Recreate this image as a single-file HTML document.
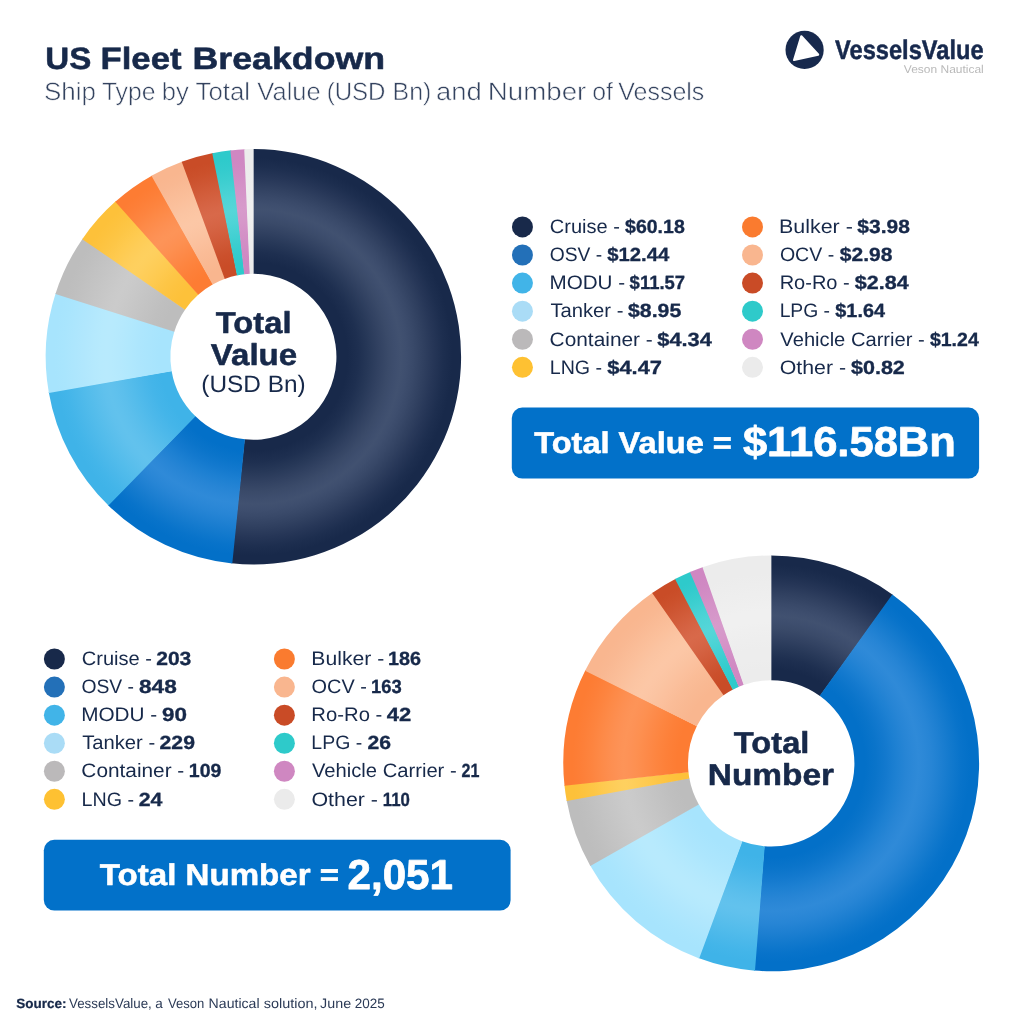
<!DOCTYPE html>
<html lang="en"><head><meta charset="utf-8"><title>US Fleet Breakdown</title>
<style>html,body{margin:0;padding:0;background:#fff}body{width:1024px;height:1024px;overflow:hidden}svg{display:block}text{font-family:"Liberation Sans", Arial, sans-serif;white-space:pre;text-rendering:geometricPrecision}</style>
</head><body>
<svg width="1024" height="1024" viewBox="0 0 1024 1024">
<defs>
<radialGradient id="a0" gradientUnits="userSpaceOnUse" cx="253.4" cy="356.8" r="207.7"><stop offset="0.400" stop-color="#18294a"/><stop offset="0.453" stop-color="#18294a"/><stop offset="0.506" stop-color="#1e2f50"/><stop offset="0.554" stop-color="#273858"/><stop offset="0.602" stop-color="#314161"/><stop offset="0.650" stop-color="#3a4a69"/><stop offset="0.684" stop-color="#3e4e6e"/><stop offset="0.710" stop-color="#415170"/><stop offset="0.737" stop-color="#3e4e6e"/><stop offset="0.770" stop-color="#394969"/><stop offset="0.818" stop-color="#304060"/><stop offset="0.867" stop-color="#263657"/><stop offset="0.915" stop-color="#1d2e4f"/><stop offset="0.958" stop-color="#18294a"/><stop offset="1.000" stop-color="#18294a"/></radialGradient>
<radialGradient id="a1" gradientUnits="userSpaceOnUse" cx="253.4" cy="356.8" r="207.7"><stop offset="0.400" stop-color="#0370c8"/><stop offset="0.453" stop-color="#0370c8"/><stop offset="0.506" stop-color="#0a74ca"/><stop offset="0.554" stop-color="#1379ce"/><stop offset="0.602" stop-color="#1d80d2"/><stop offset="0.650" stop-color="#2785d5"/><stop offset="0.684" stop-color="#2c88d7"/><stop offset="0.710" stop-color="#2f8ad8"/><stop offset="0.737" stop-color="#2c88d7"/><stop offset="0.770" stop-color="#2785d5"/><stop offset="0.818" stop-color="#1d7fd1"/><stop offset="0.867" stop-color="#1279cd"/><stop offset="0.915" stop-color="#0873ca"/><stop offset="0.958" stop-color="#0370c8"/><stop offset="1.000" stop-color="#0370c8"/></radialGradient>
<radialGradient id="a2" gradientUnits="userSpaceOnUse" cx="253.4" cy="356.8" r="207.7"><stop offset="0.400" stop-color="#3fb3e8"/><stop offset="0.453" stop-color="#3fb3e8"/><stop offset="0.506" stop-color="#44b5e9"/><stop offset="0.554" stop-color="#4cb8ea"/><stop offset="0.602" stop-color="#54bceb"/><stop offset="0.650" stop-color="#5cbfec"/><stop offset="0.684" stop-color="#60c1ed"/><stop offset="0.710" stop-color="#62c2ed"/><stop offset="0.737" stop-color="#60c1ed"/><stop offset="0.770" stop-color="#5bbfec"/><stop offset="0.818" stop-color="#53bceb"/><stop offset="0.867" stop-color="#4bb8ea"/><stop offset="0.915" stop-color="#43b5e9"/><stop offset="0.958" stop-color="#3fb3e8"/><stop offset="1.000" stop-color="#3fb3e8"/></radialGradient>
<radialGradient id="a3" gradientUnits="userSpaceOnUse" cx="253.4" cy="356.8" r="207.7"><stop offset="0.400" stop-color="#a7e4fd"/><stop offset="0.453" stop-color="#a7e4fd"/><stop offset="0.506" stop-color="#aae5fd"/><stop offset="0.554" stop-color="#ade6fd"/><stop offset="0.602" stop-color="#b1e8fd"/><stop offset="0.650" stop-color="#b5e9fd"/><stop offset="0.684" stop-color="#b7eafd"/><stop offset="0.710" stop-color="#b8eafd"/><stop offset="0.737" stop-color="#b7eafd"/><stop offset="0.770" stop-color="#b5e9fd"/><stop offset="0.818" stop-color="#b1e7fd"/><stop offset="0.867" stop-color="#ade6fd"/><stop offset="0.915" stop-color="#a9e5fd"/><stop offset="0.958" stop-color="#a7e4fd"/><stop offset="1.000" stop-color="#a7e4fd"/></radialGradient>
<radialGradient id="a4" gradientUnits="userSpaceOnUse" cx="253.4" cy="356.8" r="207.7"><stop offset="0.400" stop-color="#bdbdbd"/><stop offset="0.453" stop-color="#bdbdbd"/><stop offset="0.506" stop-color="#bfbfbf"/><stop offset="0.554" stop-color="#c2c2c2"/><stop offset="0.602" stop-color="#c5c5c5"/><stop offset="0.650" stop-color="#c8c8c8"/><stop offset="0.684" stop-color="#cacaca"/><stop offset="0.710" stop-color="#cbcbcb"/><stop offset="0.737" stop-color="#cacaca"/><stop offset="0.770" stop-color="#c8c8c8"/><stop offset="0.818" stop-color="#c5c5c5"/><stop offset="0.867" stop-color="#c2c2c2"/><stop offset="0.915" stop-color="#bfbfbf"/><stop offset="0.958" stop-color="#bdbdbd"/><stop offset="1.000" stop-color="#bdbdbd"/></radialGradient>
<radialGradient id="a5" gradientUnits="userSpaceOnUse" cx="253.4" cy="356.8" r="207.7"><stop offset="0.400" stop-color="#fdc13a"/><stop offset="0.453" stop-color="#fdc13a"/><stop offset="0.506" stop-color="#fdc340"/><stop offset="0.554" stop-color="#fdc647"/><stop offset="0.602" stop-color="#feca50"/><stop offset="0.650" stop-color="#fecd58"/><stop offset="0.684" stop-color="#fecf5d"/><stop offset="0.710" stop-color="#fed05f"/><stop offset="0.737" stop-color="#fecf5d"/><stop offset="0.770" stop-color="#fecd58"/><stop offset="0.818" stop-color="#feca4f"/><stop offset="0.867" stop-color="#fdc646"/><stop offset="0.915" stop-color="#fdc33f"/><stop offset="0.958" stop-color="#fdc13a"/><stop offset="1.000" stop-color="#fdc13a"/></radialGradient>
<radialGradient id="a6" gradientUnits="userSpaceOnUse" cx="253.4" cy="356.8" r="207.7"><stop offset="0.400" stop-color="#fd7c33"/><stop offset="0.453" stop-color="#fd7c33"/><stop offset="0.506" stop-color="#fd8039"/><stop offset="0.554" stop-color="#fd8540"/><stop offset="0.602" stop-color="#fd8a49"/><stop offset="0.650" stop-color="#fd9051"/><stop offset="0.684" stop-color="#fd9256"/><stop offset="0.710" stop-color="#fd9458"/><stop offset="0.737" stop-color="#fd9256"/><stop offset="0.770" stop-color="#fd8f51"/><stop offset="0.818" stop-color="#fd8a48"/><stop offset="0.867" stop-color="#fd843f"/><stop offset="0.915" stop-color="#fd7f38"/><stop offset="0.958" stop-color="#fd7c33"/><stop offset="1.000" stop-color="#fd7c33"/></radialGradient>
<radialGradient id="a7" gradientUnits="userSpaceOnUse" cx="253.4" cy="356.8" r="207.7"><stop offset="0.400" stop-color="#f9b68f"/><stop offset="0.453" stop-color="#f9b68f"/><stop offset="0.506" stop-color="#f9b993"/><stop offset="0.554" stop-color="#fabc97"/><stop offset="0.602" stop-color="#fbc09d"/><stop offset="0.650" stop-color="#fbc4a2"/><stop offset="0.684" stop-color="#fcc6a5"/><stop offset="0.710" stop-color="#fcc7a6"/><stop offset="0.737" stop-color="#fcc6a4"/><stop offset="0.770" stop-color="#fbc4a2"/><stop offset="0.818" stop-color="#fbc09c"/><stop offset="0.867" stop-color="#fabc97"/><stop offset="0.915" stop-color="#f9b892"/><stop offset="0.958" stop-color="#f9b68f"/><stop offset="1.000" stop-color="#f9b68f"/></radialGradient>
<radialGradient id="a8" gradientUnits="userSpaceOnUse" cx="253.4" cy="356.8" r="207.7"><stop offset="0.400" stop-color="#c94c27"/><stop offset="0.453" stop-color="#c94c27"/><stop offset="0.506" stop-color="#cb502c"/><stop offset="0.554" stop-color="#ce5734"/><stop offset="0.602" stop-color="#d25d3c"/><stop offset="0.650" stop-color="#d56444"/><stop offset="0.684" stop-color="#d76748"/><stop offset="0.710" stop-color="#d8694a"/><stop offset="0.737" stop-color="#d76748"/><stop offset="0.770" stop-color="#d56343"/><stop offset="0.818" stop-color="#d25d3b"/><stop offset="0.867" stop-color="#ce5633"/><stop offset="0.915" stop-color="#cb502b"/><stop offset="0.958" stop-color="#c94c27"/><stop offset="1.000" stop-color="#c94c27"/></radialGradient>
<radialGradient id="a9" gradientUnits="userSpaceOnUse" cx="253.4" cy="356.8" r="207.7"><stop offset="0.400" stop-color="#2ecacb"/><stop offset="0.453" stop-color="#2ecacb"/><stop offset="0.506" stop-color="#34cccd"/><stop offset="0.554" stop-color="#3cced0"/><stop offset="0.602" stop-color="#45d1d3"/><stop offset="0.650" stop-color="#4ed4d6"/><stop offset="0.684" stop-color="#53d5d7"/><stop offset="0.710" stop-color="#55d6d8"/><stop offset="0.737" stop-color="#52d5d7"/><stop offset="0.770" stop-color="#4ed4d6"/><stop offset="0.818" stop-color="#45d1d3"/><stop offset="0.867" stop-color="#3bcecf"/><stop offset="0.915" stop-color="#33cbcd"/><stop offset="0.958" stop-color="#2ecacb"/><stop offset="1.000" stop-color="#2ecacb"/></radialGradient>
<radialGradient id="a10" gradientUnits="userSpaceOnUse" cx="253.4" cy="356.8" r="207.7"><stop offset="0.400" stop-color="#cf87c2"/><stop offset="0.453" stop-color="#cf87c2"/><stop offset="0.506" stop-color="#d08ac3"/><stop offset="0.554" stop-color="#d28ec5"/><stop offset="0.602" stop-color="#d492c7"/><stop offset="0.650" stop-color="#d697c9"/><stop offset="0.684" stop-color="#d699ca"/><stop offset="0.710" stop-color="#d79acb"/><stop offset="0.737" stop-color="#d699ca"/><stop offset="0.770" stop-color="#d596c9"/><stop offset="0.818" stop-color="#d492c7"/><stop offset="0.867" stop-color="#d28dc5"/><stop offset="0.915" stop-color="#d089c3"/><stop offset="0.958" stop-color="#cf87c2"/><stop offset="1.000" stop-color="#cf87c2"/></radialGradient>
<radialGradient id="a11" gradientUnits="userSpaceOnUse" cx="253.4" cy="356.8" r="207.7"><stop offset="0.400" stop-color="#ececec"/><stop offset="0.453" stop-color="#ececec"/><stop offset="0.506" stop-color="#ededed"/><stop offset="0.554" stop-color="#ededed"/><stop offset="0.602" stop-color="#eeeeee"/><stop offset="0.650" stop-color="#efefef"/><stop offset="0.684" stop-color="#f0f0f0"/><stop offset="0.710" stop-color="#f0f0f0"/><stop offset="0.737" stop-color="#f0f0f0"/><stop offset="0.770" stop-color="#efefef"/><stop offset="0.818" stop-color="#eeeeee"/><stop offset="0.867" stop-color="#ededed"/><stop offset="0.915" stop-color="#ececec"/><stop offset="0.958" stop-color="#ececec"/><stop offset="1.000" stop-color="#ececec"/></radialGradient>
<radialGradient id="b0" gradientUnits="userSpaceOnUse" cx="771.2" cy="763.4" r="207.9"><stop offset="0.400" stop-color="#18294a"/><stop offset="0.452" stop-color="#18294a"/><stop offset="0.505" stop-color="#1e2f50"/><stop offset="0.553" stop-color="#273858"/><stop offset="0.601" stop-color="#314161"/><stop offset="0.649" stop-color="#3a4a69"/><stop offset="0.683" stop-color="#3e4e6e"/><stop offset="0.709" stop-color="#415170"/><stop offset="0.736" stop-color="#3e4e6e"/><stop offset="0.770" stop-color="#394969"/><stop offset="0.818" stop-color="#304060"/><stop offset="0.866" stop-color="#263657"/><stop offset="0.914" stop-color="#1d2e4f"/><stop offset="0.957" stop-color="#18294a"/><stop offset="1.000" stop-color="#18294a"/></radialGradient>
<radialGradient id="b1" gradientUnits="userSpaceOnUse" cx="771.2" cy="763.4" r="207.9"><stop offset="0.400" stop-color="#0370c8"/><stop offset="0.452" stop-color="#0370c8"/><stop offset="0.505" stop-color="#0a74ca"/><stop offset="0.553" stop-color="#1379ce"/><stop offset="0.601" stop-color="#1d80d2"/><stop offset="0.649" stop-color="#2785d5"/><stop offset="0.683" stop-color="#2c88d7"/><stop offset="0.709" stop-color="#2f8ad8"/><stop offset="0.736" stop-color="#2c88d7"/><stop offset="0.770" stop-color="#2785d5"/><stop offset="0.818" stop-color="#1d7fd1"/><stop offset="0.866" stop-color="#1279cd"/><stop offset="0.914" stop-color="#0873ca"/><stop offset="0.957" stop-color="#0370c8"/><stop offset="1.000" stop-color="#0370c8"/></radialGradient>
<radialGradient id="b2" gradientUnits="userSpaceOnUse" cx="771.2" cy="763.4" r="207.9"><stop offset="0.400" stop-color="#3fb3e8"/><stop offset="0.452" stop-color="#3fb3e8"/><stop offset="0.505" stop-color="#44b5e9"/><stop offset="0.553" stop-color="#4cb8ea"/><stop offset="0.601" stop-color="#54bceb"/><stop offset="0.649" stop-color="#5cbfec"/><stop offset="0.683" stop-color="#60c1ed"/><stop offset="0.709" stop-color="#62c2ed"/><stop offset="0.736" stop-color="#60c1ed"/><stop offset="0.770" stop-color="#5bbfec"/><stop offset="0.818" stop-color="#53bceb"/><stop offset="0.866" stop-color="#4bb8ea"/><stop offset="0.914" stop-color="#43b5e9"/><stop offset="0.957" stop-color="#3fb3e8"/><stop offset="1.000" stop-color="#3fb3e8"/></radialGradient>
<radialGradient id="b3" gradientUnits="userSpaceOnUse" cx="771.2" cy="763.4" r="207.9"><stop offset="0.400" stop-color="#a7e4fd"/><stop offset="0.452" stop-color="#a7e4fd"/><stop offset="0.505" stop-color="#aae5fd"/><stop offset="0.553" stop-color="#ade6fd"/><stop offset="0.601" stop-color="#b1e8fd"/><stop offset="0.649" stop-color="#b5e9fd"/><stop offset="0.683" stop-color="#b7eafd"/><stop offset="0.709" stop-color="#b8eafd"/><stop offset="0.736" stop-color="#b7eafd"/><stop offset="0.770" stop-color="#b5e9fd"/><stop offset="0.818" stop-color="#b1e7fd"/><stop offset="0.866" stop-color="#ade6fd"/><stop offset="0.914" stop-color="#a9e5fd"/><stop offset="0.957" stop-color="#a7e4fd"/><stop offset="1.000" stop-color="#a7e4fd"/></radialGradient>
<radialGradient id="b4" gradientUnits="userSpaceOnUse" cx="771.2" cy="763.4" r="207.9"><stop offset="0.400" stop-color="#bdbdbd"/><stop offset="0.452" stop-color="#bdbdbd"/><stop offset="0.505" stop-color="#bfbfbf"/><stop offset="0.553" stop-color="#c2c2c2"/><stop offset="0.601" stop-color="#c5c5c5"/><stop offset="0.649" stop-color="#c8c8c8"/><stop offset="0.683" stop-color="#cacaca"/><stop offset="0.709" stop-color="#cbcbcb"/><stop offset="0.736" stop-color="#cacaca"/><stop offset="0.770" stop-color="#c8c8c8"/><stop offset="0.818" stop-color="#c5c5c5"/><stop offset="0.866" stop-color="#c2c2c2"/><stop offset="0.914" stop-color="#bfbfbf"/><stop offset="0.957" stop-color="#bdbdbd"/><stop offset="1.000" stop-color="#bdbdbd"/></radialGradient>
<radialGradient id="b5" gradientUnits="userSpaceOnUse" cx="771.2" cy="763.4" r="207.9"><stop offset="0.400" stop-color="#fdc13a"/><stop offset="0.452" stop-color="#fdc13a"/><stop offset="0.505" stop-color="#fdc340"/><stop offset="0.553" stop-color="#fdc647"/><stop offset="0.601" stop-color="#feca50"/><stop offset="0.649" stop-color="#fecd58"/><stop offset="0.683" stop-color="#fecf5d"/><stop offset="0.709" stop-color="#fed05f"/><stop offset="0.736" stop-color="#fecf5d"/><stop offset="0.770" stop-color="#fecd58"/><stop offset="0.818" stop-color="#feca4f"/><stop offset="0.866" stop-color="#fdc646"/><stop offset="0.914" stop-color="#fdc33f"/><stop offset="0.957" stop-color="#fdc13a"/><stop offset="1.000" stop-color="#fdc13a"/></radialGradient>
<radialGradient id="b6" gradientUnits="userSpaceOnUse" cx="771.2" cy="763.4" r="207.9"><stop offset="0.400" stop-color="#fd7c33"/><stop offset="0.452" stop-color="#fd7c33"/><stop offset="0.505" stop-color="#fd8039"/><stop offset="0.553" stop-color="#fd8540"/><stop offset="0.601" stop-color="#fd8a49"/><stop offset="0.649" stop-color="#fd9051"/><stop offset="0.683" stop-color="#fd9256"/><stop offset="0.709" stop-color="#fd9458"/><stop offset="0.736" stop-color="#fd9256"/><stop offset="0.770" stop-color="#fd8f51"/><stop offset="0.818" stop-color="#fd8a48"/><stop offset="0.866" stop-color="#fd843f"/><stop offset="0.914" stop-color="#fd7f38"/><stop offset="0.957" stop-color="#fd7c33"/><stop offset="1.000" stop-color="#fd7c33"/></radialGradient>
<radialGradient id="b7" gradientUnits="userSpaceOnUse" cx="771.2" cy="763.4" r="207.9"><stop offset="0.400" stop-color="#f9b68f"/><stop offset="0.452" stop-color="#f9b68f"/><stop offset="0.505" stop-color="#f9b993"/><stop offset="0.553" stop-color="#fabc97"/><stop offset="0.601" stop-color="#fbc09d"/><stop offset="0.649" stop-color="#fbc4a2"/><stop offset="0.683" stop-color="#fcc6a5"/><stop offset="0.709" stop-color="#fcc7a6"/><stop offset="0.736" stop-color="#fcc6a4"/><stop offset="0.770" stop-color="#fbc4a2"/><stop offset="0.818" stop-color="#fbc09c"/><stop offset="0.866" stop-color="#fabc97"/><stop offset="0.914" stop-color="#f9b892"/><stop offset="0.957" stop-color="#f9b68f"/><stop offset="1.000" stop-color="#f9b68f"/></radialGradient>
<radialGradient id="b8" gradientUnits="userSpaceOnUse" cx="771.2" cy="763.4" r="207.9"><stop offset="0.400" stop-color="#c94c27"/><stop offset="0.452" stop-color="#c94c27"/><stop offset="0.505" stop-color="#cb502c"/><stop offset="0.553" stop-color="#ce5734"/><stop offset="0.601" stop-color="#d25d3c"/><stop offset="0.649" stop-color="#d56444"/><stop offset="0.683" stop-color="#d76748"/><stop offset="0.709" stop-color="#d8694a"/><stop offset="0.736" stop-color="#d76748"/><stop offset="0.770" stop-color="#d56343"/><stop offset="0.818" stop-color="#d25d3b"/><stop offset="0.866" stop-color="#ce5633"/><stop offset="0.914" stop-color="#cb502b"/><stop offset="0.957" stop-color="#c94c27"/><stop offset="1.000" stop-color="#c94c27"/></radialGradient>
<radialGradient id="b9" gradientUnits="userSpaceOnUse" cx="771.2" cy="763.4" r="207.9"><stop offset="0.400" stop-color="#2ecacb"/><stop offset="0.452" stop-color="#2ecacb"/><stop offset="0.505" stop-color="#34cccd"/><stop offset="0.553" stop-color="#3cced0"/><stop offset="0.601" stop-color="#45d1d3"/><stop offset="0.649" stop-color="#4ed4d6"/><stop offset="0.683" stop-color="#53d5d7"/><stop offset="0.709" stop-color="#55d6d8"/><stop offset="0.736" stop-color="#52d5d7"/><stop offset="0.770" stop-color="#4ed4d6"/><stop offset="0.818" stop-color="#45d1d3"/><stop offset="0.866" stop-color="#3bcecf"/><stop offset="0.914" stop-color="#33cbcd"/><stop offset="0.957" stop-color="#2ecacb"/><stop offset="1.000" stop-color="#2ecacb"/></radialGradient>
<radialGradient id="b10" gradientUnits="userSpaceOnUse" cx="771.2" cy="763.4" r="207.9"><stop offset="0.400" stop-color="#cf87c2"/><stop offset="0.452" stop-color="#cf87c2"/><stop offset="0.505" stop-color="#d08ac3"/><stop offset="0.553" stop-color="#d28ec5"/><stop offset="0.601" stop-color="#d492c7"/><stop offset="0.649" stop-color="#d697c9"/><stop offset="0.683" stop-color="#d699ca"/><stop offset="0.709" stop-color="#d79acb"/><stop offset="0.736" stop-color="#d699ca"/><stop offset="0.770" stop-color="#d596c9"/><stop offset="0.818" stop-color="#d492c7"/><stop offset="0.866" stop-color="#d28dc5"/><stop offset="0.914" stop-color="#d089c3"/><stop offset="0.957" stop-color="#cf87c2"/><stop offset="1.000" stop-color="#cf87c2"/></radialGradient>
<radialGradient id="b11" gradientUnits="userSpaceOnUse" cx="771.2" cy="763.4" r="207.9"><stop offset="0.400" stop-color="#ececec"/><stop offset="0.452" stop-color="#ececec"/><stop offset="0.505" stop-color="#ededed"/><stop offset="0.553" stop-color="#ededed"/><stop offset="0.601" stop-color="#eeeeee"/><stop offset="0.649" stop-color="#efefef"/><stop offset="0.683" stop-color="#f0f0f0"/><stop offset="0.709" stop-color="#f0f0f0"/><stop offset="0.736" stop-color="#f0f0f0"/><stop offset="0.770" stop-color="#efefef"/><stop offset="0.818" stop-color="#eeeeee"/><stop offset="0.866" stop-color="#ededed"/><stop offset="0.914" stop-color="#ececec"/><stop offset="0.957" stop-color="#ececec"/><stop offset="1.000" stop-color="#ececec"/></radialGradient>
</defs>
<rect width="1024" height="1024" fill="#ffffff"/>
<g id="shapes">
<circle cx="804.6" cy="49.9" r="19.1" fill="#17294d"/>
<path d="M801.3 36.3L818.1 54.6L794.1 60.0Z" fill="#fff" stroke="#fff" stroke-width="2.2" stroke-linejoin="round"/>
<path d="M253.40 149.10A207.7 207.7 0 1 1 231.38 563.33L244.60 439.33A83.0 83.0 0 1 0 253.40 273.80Z" fill="url(#a0)"/>
<path d="M232.28 563.42A207.7 207.7 0 0 1 107.82 504.94L195.22 416.00A83.0 83.0 0 0 0 244.96 439.37Z" fill="url(#a1)"/>
<path d="M108.47 505.57A207.7 207.7 0 0 1 48.71 392.05L171.60 370.89A83.0 83.0 0 0 0 195.48 416.25Z" fill="url(#a2)"/>
<path d="M48.87 392.94A207.7 207.7 0 0 1 55.72 293.08L174.40 331.33A83.0 83.0 0 0 0 171.67 371.24Z" fill="url(#a3)"/>
<path d="M55.44 293.94A207.7 207.7 0 0 1 82.76 238.39L185.21 309.48A83.0 83.0 0 0 0 174.29 331.68Z" fill="url(#a4)"/>
<path d="M82.25 239.13A207.7 207.7 0 0 1 115.94 201.09L198.47 294.58A83.0 83.0 0 0 0 185.00 309.78Z" fill="url(#a5)"/>
<path d="M115.26 201.69A207.7 207.7 0 0 1 152.24 175.40L212.97 284.31A83.0 83.0 0 0 0 198.20 294.82Z" fill="url(#a6)"/>
<path d="M151.45 175.85A207.7 207.7 0 0 1 182.55 161.56L225.09 278.78A83.0 83.0 0 0 0 212.66 284.49Z" fill="url(#a7)"/>
<path d="M181.70 161.87A207.7 207.7 0 0 1 213.14 153.04L237.31 275.37A83.0 83.0 0 0 0 224.75 278.90Z" fill="url(#a8)"/>
<path d="M212.26 153.22A207.7 207.7 0 0 1 231.29 150.28L244.56 274.27A83.0 83.0 0 0 0 236.96 275.44Z" fill="url(#a9)"/>
<path d="M230.39 150.38A207.7 207.7 0 0 1 245.13 149.26L250.09 273.87A83.0 83.0 0 0 0 244.20 274.31Z" fill="url(#a10)"/>
<path d="M244.22 149.30A207.7 207.7 0 0 1 253.40 149.10L253.40 273.80A83.0 83.0 0 0 0 249.73 273.88Z" fill="url(#a11)"/>
<path d="M771.20 555.50A207.9 207.9 0 0 1 893.05 594.95L819.96 695.99A83.2 83.2 0 0 0 771.20 680.20Z" fill="url(#b0)"/>
<path d="M892.32 594.42A207.9 207.9 0 0 1 754.07 970.59L764.35 846.32A83.2 83.2 0 0 0 819.67 695.78Z" fill="url(#b1)"/>
<path d="M754.98 970.67A207.9 207.9 0 0 1 698.31 958.10L742.03 841.32A83.2 83.2 0 0 0 764.71 846.35Z" fill="url(#b2)"/>
<path d="M699.16 958.42A207.9 207.9 0 0 1 589.86 865.09L698.63 804.09A83.2 83.2 0 0 0 742.37 841.45Z" fill="url(#b3)"/>
<path d="M590.31 865.88A207.9 207.9 0 0 1 566.55 800.04L689.30 778.06A83.2 83.2 0 0 0 698.81 804.41Z" fill="url(#b4)"/>
<path d="M566.72 800.93A207.9 207.9 0 0 1 564.42 784.90L688.45 772.01A83.2 83.2 0 0 0 689.37 778.42Z" fill="url(#b5)"/>
<path d="M564.51 785.81A207.9 207.9 0 0 1 585.48 669.95L696.88 726.00A83.2 83.2 0 0 0 688.48 772.37Z" fill="url(#b6)"/>
<path d="M585.08 670.76A207.9 207.9 0 0 1 652.91 592.43L723.86 694.98A83.2 83.2 0 0 0 696.72 726.33Z" fill="url(#b7)"/>
<path d="M652.16 592.95A207.9 207.9 0 0 1 675.82 578.67L733.03 689.47A83.2 83.2 0 0 0 723.56 695.19Z" fill="url(#b8)"/>
<path d="M675.02 579.09A207.9 207.9 0 0 1 690.82 571.67L739.03 686.67A83.2 83.2 0 0 0 732.71 689.64Z" fill="url(#b9)"/>
<path d="M689.99 572.02A207.9 207.9 0 0 1 703.32 566.89L744.03 684.76A83.2 83.2 0 0 0 738.70 686.81Z" fill="url(#b10)"/>
<path d="M702.46 567.19A207.9 207.9 0 0 1 771.20 555.50L771.20 680.20A83.2 83.2 0 0 0 743.69 684.88Z" fill="url(#b11)"/>
<circle cx="522.45" cy="226.95" r="10.5" fill="#18294a"/>
<circle cx="522.45" cy="255.02" r="10.5" fill="#2370b8"/>
<circle cx="522.45" cy="283.09" r="10.5" fill="#41b4e8"/>
<circle cx="522.45" cy="311.16" r="10.5" fill="#aadcf6"/>
<circle cx="522.45" cy="339.23" r="10.5" fill="#bbb9ba"/>
<circle cx="522.45" cy="367.30" r="10.5" fill="#fec132"/>
<circle cx="752.5" cy="226.95" r="10.5" fill="#fa7b2f"/>
<circle cx="752.5" cy="255.02" r="10.5" fill="#f9b68f"/>
<circle cx="752.5" cy="283.09" r="10.5" fill="#c94b26"/>
<circle cx="752.5" cy="311.16" r="10.5" fill="#2ecaca"/>
<circle cx="752.5" cy="339.23" r="10.5" fill="#cf87c1"/>
<circle cx="752.5" cy="367.30" r="10.5" fill="#ebebeb"/>
<circle cx="54.4" cy="659.00" r="10.5" fill="#18294a"/>
<circle cx="54.4" cy="687.07" r="10.5" fill="#2370b8"/>
<circle cx="54.4" cy="715.14" r="10.5" fill="#41b4e8"/>
<circle cx="54.4" cy="743.21" r="10.5" fill="#aadcf6"/>
<circle cx="54.4" cy="771.28" r="10.5" fill="#bbb9ba"/>
<circle cx="54.4" cy="799.35" r="10.5" fill="#fec132"/>
<circle cx="284.4" cy="659.00" r="10.5" fill="#fa7b2f"/>
<circle cx="284.4" cy="687.07" r="10.5" fill="#f9b68f"/>
<circle cx="284.4" cy="715.14" r="10.5" fill="#c94b26"/>
<circle cx="284.4" cy="743.21" r="10.5" fill="#2ecaca"/>
<circle cx="284.4" cy="771.28" r="10.5" fill="#cf87c1"/>
<circle cx="284.4" cy="799.35" r="10.5" fill="#ebebeb"/>
<rect x="511.8" y="407.6" width="467.3" height="70.9" rx="10.5" fill="#0271c9"/>
<rect x="43.8" y="839.8" width="466.8" height="70.8" rx="10.5" fill="#0271c9"/>
</g>
<g id="texts">
<text x="45.25" y="69.00" font-size="30.81" font-weight="700" fill="#17294a" stroke="#17294a" stroke-width="0.55" stroke-linejoin="round" textLength="46.02" lengthAdjust="spacingAndGlyphs">US</text>
<text x="100.46" y="69.00" font-size="30.81" font-weight="700" fill="#17294a" stroke="#17294a" stroke-width="0.55" stroke-linejoin="round" textLength="81.12" lengthAdjust="spacingAndGlyphs">Fleet</text>
<text x="192.53" y="69.00" font-size="30.81" font-weight="700" fill="#17294a" stroke="#17294a" stroke-width="0.55" stroke-linejoin="round" textLength="192.62" lengthAdjust="spacingAndGlyphs">Breakdown</text>
<text x="44.06" y="100.00" font-size="25.0" font-weight="400" fill="#34435f" stroke="#ffffff" stroke-width="0.55" stroke-linejoin="round" textLength="51.95" lengthAdjust="spacingAndGlyphs">Ship</text>
<text x="101.89" y="100.00" font-size="25.0" font-weight="400" fill="#34435f" stroke="#ffffff" stroke-width="0.55" stroke-linejoin="round" textLength="53.56" lengthAdjust="spacingAndGlyphs">Type</text>
<text x="161.69" y="100.00" font-size="25.0" font-weight="400" fill="#34435f" stroke="#ffffff" stroke-width="0.55" stroke-linejoin="round" textLength="27.01" lengthAdjust="spacingAndGlyphs">by</text>
<text x="195.53" y="100.00" font-size="25.0" font-weight="400" fill="#34435f" stroke="#ffffff" stroke-width="0.55" stroke-linejoin="round" textLength="54.53" lengthAdjust="spacingAndGlyphs">Total</text>
<text x="257.38" y="100.00" font-size="25.0" font-weight="400" fill="#34435f" stroke="#ffffff" stroke-width="0.55" stroke-linejoin="round" textLength="63.28" lengthAdjust="spacingAndGlyphs">Value</text>
<text x="326.65" y="100.00" font-size="25.0" font-weight="400" fill="#34435f" stroke="#ffffff" stroke-width="0.55" stroke-linejoin="round" textLength="58.85" lengthAdjust="spacingAndGlyphs">(USD</text>
<text x="392.56" y="100.00" font-size="25.0" font-weight="400" fill="#34435f" stroke="#ffffff" stroke-width="0.55" stroke-linejoin="round" textLength="38.83" lengthAdjust="spacingAndGlyphs">Bn)</text>
<text x="436.01" y="100.00" font-size="25.0" font-weight="400" fill="#34435f" stroke="#ffffff" stroke-width="0.55" stroke-linejoin="round" textLength="45.85" lengthAdjust="spacingAndGlyphs">and</text>
<text x="487.77" y="100.00" font-size="25.0" font-weight="400" fill="#34435f" stroke="#ffffff" stroke-width="0.55" stroke-linejoin="round" textLength="98.54" lengthAdjust="spacingAndGlyphs">Number</text>
<text x="592.22" y="100.00" font-size="25.0" font-weight="400" fill="#34435f" stroke="#ffffff" stroke-width="0.55" stroke-linejoin="round" textLength="20.70" lengthAdjust="spacingAndGlyphs">of</text>
<text x="618.25" y="100.00" font-size="25.0" font-weight="400" fill="#34435f" stroke="#ffffff" stroke-width="0.55" stroke-linejoin="round" textLength="86.06" lengthAdjust="spacingAndGlyphs">Vessels</text>
<text x="835.08" y="59.00" font-size="27.03" font-weight="700" fill="#17294d" stroke="#17294d" stroke-width="0.49" stroke-linejoin="round" textLength="148.49" lengthAdjust="spacingAndGlyphs">VesselsValue</text>
<text x="903.88" y="73.00" font-size="11.26" font-weight="400" fill="#b9b9b9" textLength="79.90" lengthAdjust="spacingAndGlyphs">Veson Nautical</text>
<text x="215.84" y="333.00" font-size="30.23" font-weight="700" fill="#17294a" stroke="#17294a" stroke-width="0.54" stroke-linejoin="round" textLength="75.65" lengthAdjust="spacingAndGlyphs">Total</text>
<text x="210.85" y="365.00" font-size="30.23" font-weight="700" fill="#17294a" stroke="#17294a" stroke-width="0.54" stroke-linejoin="round" textLength="86.35" lengthAdjust="spacingAndGlyphs">Value</text>
<text x="201.38" y="392.00" font-size="23.69" font-weight="400" fill="#17294a" textLength="104.17" lengthAdjust="spacingAndGlyphs">(USD Bn)</text>
<text x="733.82" y="753.00" font-size="30.23" font-weight="700" fill="#17294a" stroke="#17294a" stroke-width="0.54" stroke-linejoin="round" textLength="75.57" lengthAdjust="spacingAndGlyphs">Total</text>
<text x="707.81" y="785.00" font-size="30.23" font-weight="700" fill="#17294a" stroke="#17294a" stroke-width="0.54" stroke-linejoin="round" textLength="126.26" lengthAdjust="spacingAndGlyphs">Number</text>
<text x="534.16" y="453.00" font-size="30.09" font-weight="700" fill="#ffffff" stroke="#ffffff" stroke-width="0.54" stroke-linejoin="round" textLength="197.69" lengthAdjust="spacingAndGlyphs">Total Value =</text>
<text x="742.92" y="456.00" font-size="41.86" font-weight="700" fill="#ffffff" stroke="#ffffff" stroke-width="0.75" stroke-linejoin="round" textLength="212.98" lengthAdjust="spacingAndGlyphs">$116.58Bn</text>
<text x="99.87" y="885.00" font-size="30.09" font-weight="700" fill="#ffffff" stroke="#ffffff" stroke-width="0.54" stroke-linejoin="round" textLength="239.24" lengthAdjust="spacingAndGlyphs">Total Number =</text>
<text x="347.46" y="889.00" font-size="41.86" font-weight="700" fill="#ffffff" stroke="#ffffff" stroke-width="0.75" stroke-linejoin="round" textLength="105.59" lengthAdjust="spacingAndGlyphs">2,051</text>
<text x="16.31" y="1008.00" font-size="13.37" font-weight="700" fill="#17294a" stroke="#17294a" stroke-width="0.24" stroke-linejoin="round" textLength="50.31" lengthAdjust="spacingAndGlyphs">Source:</text>
<text x="69.04" y="1008.00" font-size="13.66" font-weight="400" fill="#2b3a56" textLength="82.77" lengthAdjust="spacingAndGlyphs">VesselsValue,</text>
<text x="155.34" y="1008.00" font-size="13.66" font-weight="400" fill="#2b3a56" textLength="7.53" lengthAdjust="spacingAndGlyphs">a</text>
<text x="167.92" y="1008.00" font-size="13.66" font-weight="400" fill="#2b3a56" textLength="36.38" lengthAdjust="spacingAndGlyphs">Veson</text>
<text x="208.61" y="1008.00" font-size="13.66" font-weight="400" fill="#2b3a56" textLength="50.95" lengthAdjust="spacingAndGlyphs">Nautical</text>
<text x="263.76" y="1008.00" font-size="13.66" font-weight="400" fill="#2b3a56" textLength="53.74" lengthAdjust="spacingAndGlyphs">solution,</text>
<text x="320.13" y="1008.00" font-size="13.66" font-weight="400" fill="#2b3a56" textLength="31.00" lengthAdjust="spacingAndGlyphs">June</text>
<text x="354.65" y="1008.00" font-size="13.66" font-weight="400" fill="#2b3a56" textLength="30.01" lengthAdjust="spacingAndGlyphs">2025</text>
<text x="549.81" y="233.00" font-size="19.48" font-weight="400" fill="#17294a" textLength="70.06" lengthAdjust="spacingAndGlyphs">Cruise -</text>
<text x="625.10" y="233.00" font-size="19.11" font-weight="700" fill="#17294a" stroke="#17294a" stroke-width="0.34" stroke-linejoin="round" textLength="59.63" lengthAdjust="spacingAndGlyphs">$60.18</text>
<text x="549.72" y="261.00" font-size="19.48" font-weight="400" fill="#17294a" textLength="52.40" lengthAdjust="spacingAndGlyphs">OSV -</text>
<text x="607.33" y="261.00" font-size="19.11" font-weight="700" fill="#17294a" stroke="#17294a" stroke-width="0.34" stroke-linejoin="round" textLength="61.92" lengthAdjust="spacingAndGlyphs">$12.44</text>
<text x="549.47" y="289.00" font-size="19.48" font-weight="400" fill="#17294a" textLength="75.63" lengthAdjust="spacingAndGlyphs">MODU -</text>
<text x="629.61" y="289.00" font-size="19.11" font-weight="700" fill="#17294a" stroke="#17294a" stroke-width="0.34" stroke-linejoin="round" textLength="55.46" lengthAdjust="spacingAndGlyphs">$11.57</text>
<text x="550.40" y="317.00" font-size="19.48" font-weight="400" fill="#17294a" textLength="73.08" lengthAdjust="spacingAndGlyphs">Tanker -</text>
<text x="627.99" y="317.00" font-size="19.11" font-weight="700" fill="#17294a" stroke="#17294a" stroke-width="0.34" stroke-linejoin="round" textLength="53.27" lengthAdjust="spacingAndGlyphs">$8.95</text>
<text x="549.63" y="346.00" font-size="19.48" font-weight="400" fill="#17294a" textLength="103.12" lengthAdjust="spacingAndGlyphs">Container -</text>
<text x="657.26" y="346.00" font-size="19.11" font-weight="700" fill="#17294a" stroke="#17294a" stroke-width="0.34" stroke-linejoin="round" textLength="54.61" lengthAdjust="spacingAndGlyphs">$4.34</text>
<text x="549.77" y="374.00" font-size="19.48" font-weight="400" fill="#17294a" textLength="52.40" lengthAdjust="spacingAndGlyphs">LNG -</text>
<text x="607.28" y="374.00" font-size="19.11" font-weight="700" fill="#17294a" stroke="#17294a" stroke-width="0.34" stroke-linejoin="round" textLength="54.79" lengthAdjust="spacingAndGlyphs">$4.47</text>
<text x="778.99" y="233.00" font-size="19.48" font-weight="400" fill="#17294a" textLength="73.88" lengthAdjust="spacingAndGlyphs">Bulker -</text>
<text x="857.31" y="233.00" font-size="19.11" font-weight="700" fill="#17294a" stroke="#17294a" stroke-width="0.34" stroke-linejoin="round" textLength="52.56" lengthAdjust="spacingAndGlyphs">$3.98</text>
<text x="779.91" y="261.00" font-size="19.48" font-weight="400" fill="#17294a" textLength="54.31" lengthAdjust="spacingAndGlyphs">OCV -</text>
<text x="839.87" y="261.00" font-size="19.11" font-weight="700" fill="#17294a" stroke="#17294a" stroke-width="0.34" stroke-linejoin="round" textLength="52.61" lengthAdjust="spacingAndGlyphs">$2.98</text>
<text x="779.65" y="289.00" font-size="19.48" font-weight="400" fill="#17294a" textLength="70.08" lengthAdjust="spacingAndGlyphs">Ro-Ro -</text>
<text x="854.88" y="289.00" font-size="19.11" font-weight="700" fill="#17294a" stroke="#17294a" stroke-width="0.34" stroke-linejoin="round" textLength="53.85" lengthAdjust="spacingAndGlyphs">$2.84</text>
<text x="779.63" y="317.00" font-size="19.48" font-weight="400" fill="#17294a" textLength="50.44" lengthAdjust="spacingAndGlyphs">LPG -</text>
<text x="835.34" y="317.00" font-size="19.11" font-weight="700" fill="#17294a" stroke="#17294a" stroke-width="0.34" stroke-linejoin="round" textLength="49.63" lengthAdjust="spacingAndGlyphs">$1.64</text>
<text x="780.38" y="346.00" font-size="19.48" font-weight="400" fill="#17294a" textLength="144.39" lengthAdjust="spacingAndGlyphs">Vehicle Carrier -</text>
<text x="929.92" y="346.00" font-size="19.11" font-weight="700" fill="#17294a" stroke="#17294a" stroke-width="0.34" stroke-linejoin="round" textLength="48.84" lengthAdjust="spacingAndGlyphs">$1.24</text>
<text x="779.80" y="374.00" font-size="19.48" font-weight="400" fill="#17294a" textLength="66.28" lengthAdjust="spacingAndGlyphs">Other -</text>
<text x="850.98" y="374.00" font-size="19.11" font-weight="700" fill="#17294a" stroke="#17294a" stroke-width="0.34" stroke-linejoin="round" textLength="53.89" lengthAdjust="spacingAndGlyphs">$0.82</text>
<text x="81.79" y="665.00" font-size="19.48" font-weight="400" fill="#17294a" textLength="70.27" lengthAdjust="spacingAndGlyphs">Cruise -</text>
<text x="156.18" y="665.00" font-size="19.11" font-weight="700" fill="#17294a" stroke="#17294a" stroke-width="0.34" stroke-linejoin="round" textLength="35.18" lengthAdjust="spacingAndGlyphs">203</text>
<text x="81.43" y="693.00" font-size="19.48" font-weight="400" fill="#17294a" textLength="52.59" lengthAdjust="spacingAndGlyphs">OSV -</text>
<text x="139.02" y="693.00" font-size="19.11" font-weight="700" fill="#17294a" stroke="#17294a" stroke-width="0.34" stroke-linejoin="round" textLength="37.73" lengthAdjust="spacingAndGlyphs">848</text>
<text x="81.21" y="721.00" font-size="19.48" font-weight="400" fill="#17294a" textLength="76.05" lengthAdjust="spacingAndGlyphs">MODU -</text>
<text x="161.97" y="721.00" font-size="19.11" font-weight="700" fill="#17294a" stroke="#17294a" stroke-width="0.34" stroke-linejoin="round" textLength="25.01" lengthAdjust="spacingAndGlyphs">90</text>
<text x="82.17" y="749.00" font-size="19.48" font-weight="400" fill="#17294a" textLength="73.00" lengthAdjust="spacingAndGlyphs">Tanker -</text>
<text x="159.53" y="749.00" font-size="19.11" font-weight="700" fill="#17294a" stroke="#17294a" stroke-width="0.34" stroke-linejoin="round" textLength="35.43" lengthAdjust="spacingAndGlyphs">229</text>
<text x="81.36" y="777.00" font-size="19.48" font-weight="400" fill="#17294a" textLength="102.94" lengthAdjust="spacingAndGlyphs">Container -</text>
<text x="188.85" y="777.00" font-size="19.11" font-weight="700" fill="#17294a" stroke="#17294a" stroke-width="0.34" stroke-linejoin="round" textLength="32.60" lengthAdjust="spacingAndGlyphs">109</text>
<text x="81.52" y="806.00" font-size="19.48" font-weight="400" fill="#17294a" textLength="52.55" lengthAdjust="spacingAndGlyphs">LNG -</text>
<text x="138.65" y="806.00" font-size="19.11" font-weight="700" fill="#17294a" stroke="#17294a" stroke-width="0.34" stroke-linejoin="round" textLength="23.70" lengthAdjust="spacingAndGlyphs">24</text>
<text x="311.33" y="665.00" font-size="19.48" font-weight="400" fill="#17294a" textLength="72.88" lengthAdjust="spacingAndGlyphs">Bulker -</text>
<text x="388.11" y="665.00" font-size="19.11" font-weight="700" fill="#17294a" stroke="#17294a" stroke-width="0.34" stroke-linejoin="round" textLength="32.97" lengthAdjust="spacingAndGlyphs">186</text>
<text x="311.57" y="693.00" font-size="19.48" font-weight="400" fill="#17294a" textLength="55.25" lengthAdjust="spacingAndGlyphs">OCV -</text>
<text x="371.12" y="693.00" font-size="19.11" font-weight="700" fill="#17294a" stroke="#17294a" stroke-width="0.34" stroke-linejoin="round" textLength="30.71" lengthAdjust="spacingAndGlyphs">163</text>
<text x="311.36" y="721.00" font-size="19.48" font-weight="400" fill="#17294a" textLength="70.91" lengthAdjust="spacingAndGlyphs">Ro-Ro -</text>
<text x="386.79" y="721.00" font-size="19.11" font-weight="700" fill="#17294a" stroke="#17294a" stroke-width="0.34" stroke-linejoin="round" textLength="24.51" lengthAdjust="spacingAndGlyphs">42</text>
<text x="311.34" y="749.00" font-size="19.48" font-weight="400" fill="#17294a" textLength="50.87" lengthAdjust="spacingAndGlyphs">LPG -</text>
<text x="367.54" y="749.00" font-size="19.11" font-weight="700" fill="#17294a" stroke="#17294a" stroke-width="0.34" stroke-linejoin="round" textLength="23.53" lengthAdjust="spacingAndGlyphs">26</text>
<text x="311.92" y="777.00" font-size="19.48" font-weight="400" fill="#17294a" textLength="144.78" lengthAdjust="spacingAndGlyphs">Vehicle Carrier -</text>
<text x="461.61" y="777.00" font-size="19.11" font-weight="700" fill="#17294a" stroke="#17294a" stroke-width="0.34" stroke-linejoin="round" textLength="17.93" lengthAdjust="spacingAndGlyphs">21</text>
<text x="311.51" y="806.00" font-size="19.48" font-weight="400" fill="#17294a" textLength="66.45" lengthAdjust="spacingAndGlyphs">Other -</text>
<text x="382.80" y="806.00" font-size="19.11" font-weight="700" fill="#17294a" stroke="#17294a" stroke-width="0.34" stroke-linejoin="round" textLength="27.15" lengthAdjust="spacingAndGlyphs">110</text>
</g>
</svg></body></html>
